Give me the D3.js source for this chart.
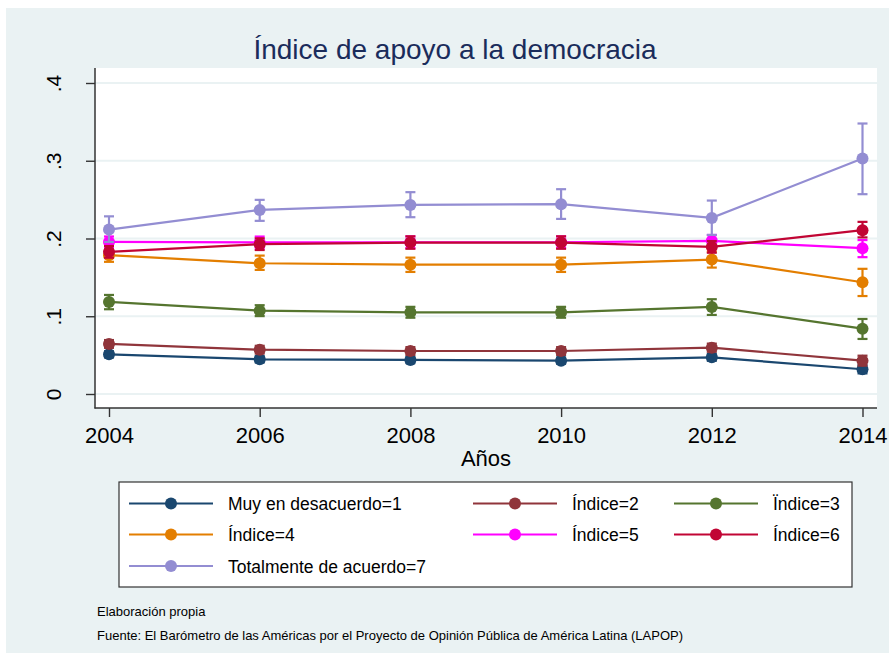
<!DOCTYPE html>
<html>
<head>
<meta charset="utf-8">
<script src="https://cdn.jsdelivr.net/npm/d3@7"></script>
<style>
  html, body { margin: 0; padding: 0; background: #ffffff; }
  svg { display: block; }
  text { font-family: "Liberation Sans", Arial, sans-serif; }
</style>
</head>
<body>
<script>
// ---------- DATA ----------
const years = [2004, 2006, 2008, 2010, 2012, 2014];
const yTickValues = [0, 0.1, 0.2, 0.3, 0.4];
const yTickLabels = ["0", ".1", ".2", ".3", ".4"];
const seriesNames = ["Muy en desacuerdo=1", "Índice=2", "Ïndice=3", "Índice=4", "Índice=5", "Índice=6", "Totalmente de acuerdo=7"];
const seriesColors = ["#1a476f", "#90353b", "#55752f", "#e37e00", "#ff00ff", "#c10534", "#938dd2"];

const mean1 = [0.051, 0.0446, 0.0438, 0.0429, 0.0472, 0.0318];
const lo1   = [0.047, 0.0406, 0.0398, 0.0389, 0.0427, 0.0265];
const hi1   = [0.055, 0.0486, 0.0478, 0.0469, 0.0517, 0.0371];

const mean2 = [0.0644, 0.057, 0.0553, 0.0553, 0.0596, 0.0429];
const lo2   = [0.0594, 0.052, 0.0503, 0.0503, 0.0544, 0.0365];
const hi2   = [0.0694, 0.062, 0.0603, 0.0603, 0.0648, 0.0493];

const mean3 = [0.1184, 0.1072, 0.1051, 0.1051, 0.112, 0.084];
const lo3   = [0.109, 0.1002, 0.0981, 0.0981, 0.1017, 0.0708];
const hi3   = [0.1274, 0.1142, 0.1121, 0.1121, 0.1219, 0.0965];

const mean4 = [0.1785, 0.1682, 0.1663, 0.1663, 0.1729, 0.1437];
const lo4   = [0.170, 0.1596, 0.157, 0.157, 0.1626, 0.126];
const hi4   = [0.187, 0.178, 0.1754, 0.1754, 0.183, 0.161];

const mean5 = [0.1956, 0.195, 0.1952, 0.1952, 0.197, 0.1875];
const lo5   = [0.1886, 0.1875, 0.1877, 0.1877, 0.1895, 0.176];
const hi5   = [0.2026, 0.2025, 0.2027, 0.2027, 0.2045, 0.198];

const mean6 = [0.1828, 0.1927, 0.1948, 0.1948, 0.1892, 0.2107];
const lo6   = [0.1753, 0.1852, 0.1868, 0.1868, 0.1817, 0.2014];
const hi6   = [0.1903, 0.2002, 0.2028, 0.2028, 0.1967, 0.2214];

const mean7 = [0.2115, 0.2368, 0.2432, 0.2441, 0.2265, 0.3029];
const lo7   = [0.1955, 0.2227, 0.2274, 0.2252, 0.2046, 0.257];
const hi7   = [0.2285, 0.2497, 0.2596, 0.2634, 0.2488, 0.3479];

const footnotes = ["Elaboración propia", "Fuente: El Barómetro de las Américas por el Proyecto de Opinión Pública de América Latina (LAPOP)"];

// ---------- BUILD ----------
const means = [mean1, mean2, mean3, mean4, mean5, mean6, mean7];
const lows  = [lo1, lo2, lo3, lo4, lo5, lo6, lo7];
const highs = [hi1, hi2, hi3, hi4, hi5, hi6, hi7];
const series = seriesNames.map((name, i) => ({
  name, color: seriesColors[i],
  points: years.map((yr, j) => ({ year: yr, v: means[i][j], lo: lows[i][j], hi: highs[i][j] }))
}));

const W = 889, H = 653;
const bg = "#eaf2f3";
const svg = d3.select("body").append("svg").attr("width", W).attr("height", H);

// outer background
svg.append("rect").attr("x", 6).attr("y", 8).attr("width", W - 6).attr("height", H - 8).attr("fill", bg);

// plot region
const plot = { left: 95, right: 877, top: 68, bottom: 408 };
svg.append("rect").attr("x", plot.left).attr("y", plot.top)
  .attr("width", plot.right - plot.left).attr("height", plot.bottom - plot.top).attr("fill", "#ffffff");

const x = d3.scaleLinear().domain([2004, 2014]).range([109, 862.5]);
const y = d3.scaleLinear().domain([0, 0.4]).range([394, 83]);

// gridlines
svg.append("g").selectAll("line").data(yTickValues).join("line")
  .attr("x1", plot.left).attr("x2", plot.right)
  .attr("y1", d => y(d)).attr("y2", d => y(d))
  .attr("stroke", bg).attr("stroke-width", 2);

// title
svg.append("text").attr("x", 455).attr("y", 59).attr("text-anchor", "middle")
  .attr("font-size", 28).attr("fill", "#1a2c5b").text("Índice de apoyo a la democracia");

// y axis
const yAxis = d3.axisLeft(y).tickValues(yTickValues).tickFormat((d, i) => yTickLabels[i]).tickSize(9).tickSizeOuter(0);
const gy = svg.append("g").attr("transform", `translate(${plot.left},0)`).call(yAxis);
gy.select(".domain").remove();
gy.selectAll(".tick line").attr("stroke", "#333").attr("stroke-width", 1.4);
gy.selectAll(".tick text")
  .attr("font-size", 21).attr("fill", "#000")
  .attr("x", 0).attr("y", 0).attr("dy", 0)
  .attr("text-anchor", "middle")
  .attr("transform", `translate(${61 - plot.left},0) rotate(-90)`);
svg.append("line").attr("x1", plot.left).attr("x2", plot.left).attr("y1", plot.top).attr("y2", plot.bottom + 0.5)
  .attr("stroke", "#333").attr("stroke-width", 1.5);

// x axis
const xAxis = d3.axisBottom(x).tickValues(years).tickFormat(d3.format("d")).tickSize(9).tickSizeOuter(0);
const gx = svg.append("g").attr("transform", `translate(0,${plot.bottom})`).call(xAxis);
gx.select(".domain").remove();
gx.selectAll(".tick line").attr("stroke", "#333").attr("stroke-width", 1.4);
gx.selectAll(".tick text").attr("font-size", 22).attr("fill", "#000").attr("y", 35).attr("dy", 0);
svg.append("line").attr("x1", plot.left - 0.5).attr("x2", plot.right).attr("y1", plot.bottom).attr("y2", plot.bottom)
  .attr("stroke", "#333").attr("stroke-width", 1.5);

svg.append("text").attr("x", (plot.left + plot.right) / 2).attr("y", 466).attr("text-anchor", "middle")
  .attr("font-size", 22).attr("fill", "#000").text("Años");

// series
const line = d3.line().x(d => x(d.year)).y(d => y(d.v));
const gS = svg.append("g");
series.forEach(s => {
  const g = gS.append("g");
  g.selectAll("line.err").data(s.points).join("line").attr("class", "err")
    .attr("x1", d => x(d.year)).attr("x2", d => x(d.year))
    .attr("y1", d => y(d.lo)).attr("y2", d => y(d.hi))
    .attr("stroke", s.color).attr("stroke-width", 2.2);
  g.selectAll("line.capT").data(s.points).join("line").attr("class", "capT")
    .attr("x1", d => x(d.year) - 5).attr("x2", d => x(d.year) + 5)
    .attr("y1", d => y(d.hi)).attr("y2", d => y(d.hi))
    .attr("stroke", s.color).attr("stroke-width", 2.2);
  g.selectAll("line.capB").data(s.points).join("line").attr("class", "capB")
    .attr("x1", d => x(d.year) - 5).attr("x2", d => x(d.year) + 5)
    .attr("y1", d => y(d.lo)).attr("y2", d => y(d.lo))
    .attr("stroke", s.color).attr("stroke-width", 2.2);
  g.append("path").datum(s.points).attr("d", line)
    .attr("fill", "none").attr("stroke", s.color).attr("stroke-width", 2.2);
  g.selectAll("circle").data(s.points).join("circle")
    .attr("cx", d => x(d.year)).attr("cy", d => y(d.v)).attr("r", 6)
    .attr("fill", s.color);
});

// legend
const leg = svg.append("g");
leg.append("rect").attr("x", 119).attr("y", 482).attr("width", 733).attr("height", 105)
  .attr("fill", "#fff").attr("stroke", "#333").attr("stroke-width", 1.2);
const colX = [129, 473, 674];
const rowY = [503.5, 534.5, 566];
series.forEach((s, i) => {
  const cx = colX[i % 3], cy = rowY[Math.floor(i / 3)];
  leg.append("line").attr("x1", cx).attr("x2", cx + 84).attr("y1", cy).attr("y2", cy)
    .attr("stroke", s.color).attr("stroke-width", 2.2);
  leg.append("circle").attr("cx", cx + 42).attr("cy", cy).attr("r", 6).attr("fill", s.color);
  leg.append("text").attr("x", cx + 99).attr("y", cy + 6.5).attr("font-size", 17.5).attr("fill", "#000").text(s.name);
});

// footnotes
svg.append("text").attr("x", 97).attr("y", 616).attr("font-size", 13).attr("fill", "#000").text(footnotes[0]);
svg.append("text").attr("x", 97).attr("y", 640).attr("font-size", 13).attr("fill", "#000").text(footnotes[1]);
</script>
</body>
</html>
